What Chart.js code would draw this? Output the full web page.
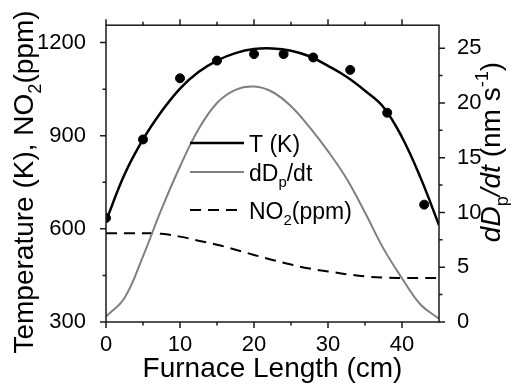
<!DOCTYPE html>
<html>
<head>
<meta charset="utf-8">
<script src="https://cdn.jsdelivr.net/npm/chart.js@4.4.1/dist/chart.umd.min.js"></script>
<style>
  html, body { margin: 0; padding: 0; background: #fff; }
</style>
</head>
<body>
<canvas id="chart" width="511" height="385"></canvas>
<script>
// furnace position (cm) for the smooth curves
const xFit = [0, 2.5, 5, 7.5, 10, 12.5, 15, 17.5, 20, 22.5, 25, 27.5, 30, 32.5, 35, 37.5, 40, 42.5, 45];
const tempFit = [625, 775, 888, 978, 1052, 1105, 1142, 1166, 1179, 1181, 1174, 1156, 1125, 1090, 1045, 992, 895, 765, 612];
const growthRate = [0.5, 2.2, 6.0, 10.3, 14.2, 17.6, 20.0, 21.2, 21.5, 21.0, 19.7, 17.8, 15.6, 13.1, 10.0, 6.7, 4.0, 1.6, 0.3];
const no2 = [586, 586, 586, 584, 575, 562, 549, 533, 516, 500, 485, 472, 463, 454, 447, 443, 442, 442, 442];

// measured temperature points
const xMeas = [0, 5, 10, 15, 20, 24, 28, 33, 38, 43];
const tempMeas = [635, 888, 1085, 1142, 1163, 1163, 1152, 1112, 974, 678];

const xTicks = [0, 10, 20, 30, 40];
const xMinor = [5, 15, 25, 35];
const tTicks = [300, 600, 900, 1200];
const tMinor = [450, 750, 1050];
const rTicks = [0, 5, 10, 15, 20, 25];
const rMinor = [2.5, 7.5, 12.5, 17.5, 22.5];

const legendLabels = [
  [{ t: "T (K)" }],
  [{ t: "dD" }, { t: "p", sub: true }, { t: "/dt" }],
  [{ t: "NO" }, { t: "2", sub: true }, { t: "(ppm)" }]
];

const FONT = "'Liberation Sans', Arial, sans-serif";

function pts(xs, ys) {
  return xs.map((x, i) => ({ x: x, y: ys[i] }));
}

function richWidth(ctx, parts, size) {
  let w = 0;
  parts.forEach(p => {
    const fs = (p.sub || p.sup) ? size * 0.65 : size;
    ctx.font = (p.it ? "italic " : "") + fs + "px " + FONT;
    w += ctx.measureText(p.t).width;
  });
  return w;
}

function drawRich(ctx, parts, x, y, size) {
  let cx = x;
  parts.forEach(p => {
    const fs = (p.sub || p.sup) ? size * 0.65 : size;
    ctx.font = (p.it ? "italic " : "") + fs + "px " + FONT;
    const dy = p.sub ? size * 0.3 : p.sup ? -size * 0.42 : 0;
    ctx.fillText(p.t, cx, y + dy);
    cx += ctx.measureText(p.t).width;
  });
}

// frame + major/minor ticks on all four sides
const frameTicks = {
  id: "frameTicks",
  afterDraw(chart) {
    const { ctx, chartArea: a, scales } = chart;
    ctx.save();
    ctx.strokeStyle = "#1a1a1a";
    ctx.lineWidth = 1.5;
    ctx.strokeRect(a.left, a.top, a.right - a.left, a.bottom - a.top);
    ctx.beginPath();
    const vx = (v, len) => {
      const px = scales.x.getPixelForValue(v);
      ctx.moveTo(px, a.bottom); ctx.lineTo(px, a.bottom + len);
      ctx.moveTo(px, a.top); ctx.lineTo(px, a.top - len);
    };
    xTicks.forEach(v => vx(v, 6));
    xMinor.forEach(v => vx(v, 3.5));
    const vl = (v, len) => {
      const py = scales.y.getPixelForValue(v);
      ctx.moveTo(a.left, py); ctx.lineTo(a.left - len, py);
    };
    tTicks.forEach(v => vl(v, 6));
    tMinor.forEach(v => vl(v, 3.5));
    const vr = (v, len) => {
      const py = scales.y2.getPixelForValue(v);
      ctx.moveTo(a.right, py); ctx.lineTo(a.right + len, py);
    };
    rTicks.forEach(v => vr(v, 6));
    rMinor.forEach(v => vr(v, 3.5));
    ctx.stroke();
    ctx.restore();
  }
};

// axis titles and the in-plot legend, with sub/superscripts
const labels = {
  id: "labels",
  afterDraw(chart) {
    const ctx = chart.ctx;
    ctx.save();
    ctx.fillStyle = "#000";
    ctx.textBaseline = "alphabetic";
    ctx.textAlign = "left";

    // bottom title
    const bt = [{ t: "Furnace Length (cm)" }];
    const bw = richWidth(ctx, bt, 28);
    const cxA = (chart.chartArea.left + chart.chartArea.right) / 2;
    drawRich(ctx, bt, cxA - bw / 2, 377, 28);

    // left title
    const lt = [{ t: "Temperature (K), NO" }, { t: "2", sub: true }, { t: "(ppm)" }];
    const lw = richWidth(ctx, lt, 28);
    ctx.save();
    ctx.translate(33, 182);
    ctx.rotate(-Math.PI / 2);
    drawRich(ctx, lt, -lw / 2, 0, 28);
    ctx.restore();

    // right title
    const rt = [{ t: "dD", it: true }, { t: "p", sub: true }, { t: "/dt", it: true },
                { t: " (nm s" }, { t: "-1", sup: true }, { t: ")" }];
    const rw = richWidth(ctx, rt, 28);
    ctx.save();
    ctx.translate(500, 152);
    ctx.rotate(-Math.PI / 2);
    drawRich(ctx, rt, -rw / 2, 0, 28);
    ctx.restore();

    // legend
    const rows = [143, 172, 210];
    const ds = chart.data.datasets.slice(1);
    rows.forEach((ry, i) => {
      const d = ds[i];
      ctx.beginPath();
      ctx.strokeStyle = d.borderColor;
      ctx.lineWidth = d.borderWidth;
      ctx.setLineDash(d.borderDash || []);
      ctx.moveTo(190, ry);
      ctx.lineTo(244, ry);
      ctx.stroke();
      ctx.setLineDash([]);
      drawRich(ctx, legendLabels[i], 249, ry + 8.5, 23);
    });
    ctx.restore();
  }
};

const tickFont = { family: FONT, size: 22 };

new Chart(document.getElementById("chart"), {
  type: "line",
  data: {
    datasets: [
      {
        label: "T measured",
        type: "scatter",
        data: pts(xMeas, tempMeas),
        yAxisID: "y",
        pointRadius: 4.5,
        pointBackgroundColor: "#000",
        pointBorderColor: "#000",
        showLine: false
      },
      {
        label: "T (K)",
        data: pts(xFit, tempFit),
        yAxisID: "y",
        borderColor: "#000",
        borderWidth: 2.5,
        pointRadius: 0,
        tension: 0.4
      },
      {
        label: "dDp/dt",
        data: pts(xFit, growthRate),
        yAxisID: "y2",
        borderColor: "#808080",
        borderWidth: 2,
        pointRadius: 0,
        tension: 0.4
      },
      {
        label: "NO2(ppm)",
        data: pts(xFit, no2),
        yAxisID: "y",
        borderColor: "#000",
        borderWidth: 2,
        borderDash: [11, 7],
        pointRadius: 0,
        tension: 0.4
      }
    ]
  },
  options: {
    responsive: false,
    animation: false,
    layout: { padding: { top: 15, left: 0, right: 0, bottom: 0 } },
    plugins: { legend: { display: false }, tooltip: { enabled: false } },
    scales: {
      x: {
        type: "linear",
        min: 0,
        max: 45,
        grid: { display: false },
        border: { display: false },
        afterBuildTicks: s => { s.ticks = xTicks.map(v => ({ value: v })); },
        afterFit: s => { s.height = 63; },
        ticks: { color: "#000", font: tickFont, padding: 2, maxRotation: 0, callback: v => String(v) }
      },
      y: {
        position: "left",
        min: 300,
        max: 1256,
        grid: { display: false },
        border: { display: false },
        afterBuildTicks: s => { s.ticks = tTicks.map(v => ({ value: v })); },
        afterFit: s => { s.width = 106; },
        ticks: { color: "#000", font: tickFont, padding: 12, callback: v => String(v) }
      },
      y2: {
        position: "right",
        min: 0,
        max: 27.1,
        grid: { display: false },
        border: { display: false },
        afterBuildTicks: s => { s.ticks = rTicks.map(v => ({ value: v })); },
        afterFit: s => { s.width = 72; },
        ticks: { color: "#000", font: tickFont, padding: 10, callback: v => String(v) }
      }
    }
  },
  plugins: [frameTicks, labels]
});
</script>
</body>
</html>
